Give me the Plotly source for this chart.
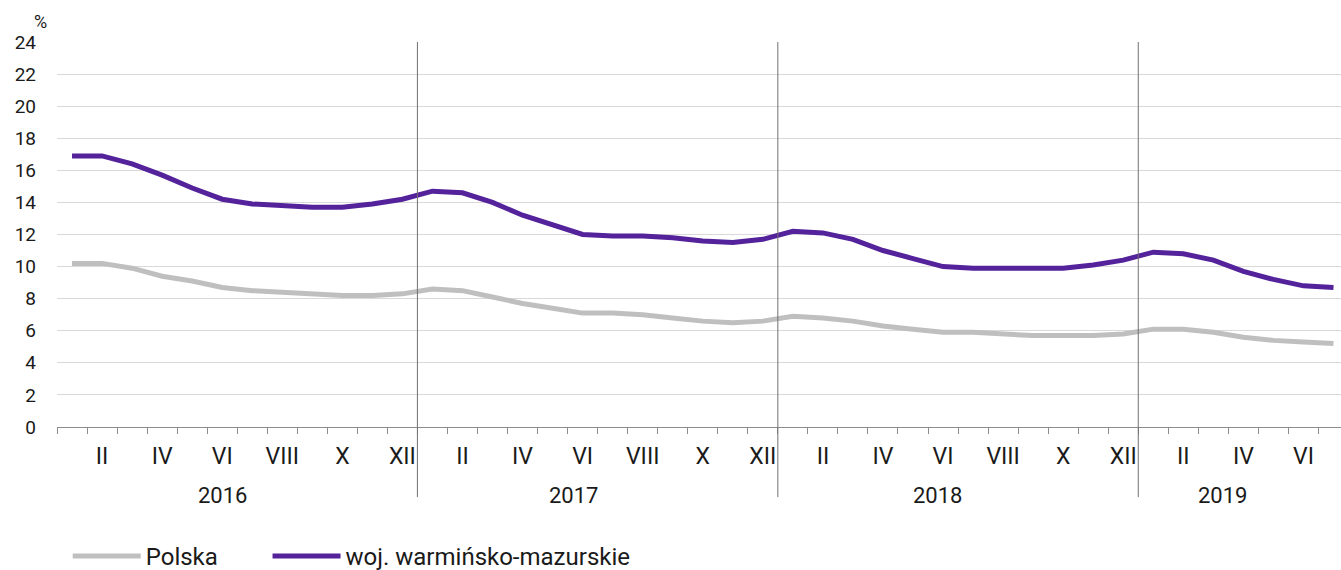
import plotly.graph_objects as go

months = list(range(43))
roman_ticks = [1, 3, 5, 7, 9, 11, 13, 15, 17, 19, 21, 23, 25, 27, 29, 31, 33, 35, 37, 39, 41]
roman_labels = ["II", "IV", "VI", "VIII", "X", "XII"] * 3 + ["II", "IV", "VI"]
years = ["2016", "2017", "2018", "2019"]
year_label_pos = [5.0, 16.7, 28.8, 38.3]
year_breaks = [11.5, 23.5, 35.5]

polska = [10.2, 10.2, 9.9, 9.4, 9.1, 8.7, 8.5, 8.4, 8.3, 8.2, 8.2, 8.3,
          8.6, 8.5, 8.1, 7.7, 7.4, 7.1, 7.1, 7.0, 6.8, 6.6, 6.5, 6.6,
          6.9, 6.8, 6.6, 6.3, 6.1, 5.9, 5.9, 5.8, 5.7, 5.7, 5.7, 5.8,
          6.1, 6.1, 5.9, 5.6, 5.4, 5.3, 5.2]
warm_maz = [16.9, 16.9, 16.4, 15.7, 14.9, 14.2, 13.9, 13.8, 13.7, 13.7, 13.9, 14.2,
            14.7, 14.6, 14.0, 13.2, 12.6, 12.0, 11.9, 11.9, 11.8, 11.6, 11.5, 11.7,
            12.2, 12.1, 11.7, 11.0, 10.5, 10.0, 9.9, 9.9, 9.9, 9.9, 10.1, 10.4,
            10.9, 10.8, 10.4, 9.7, 9.2, 8.8, 8.7]

FONT = "Roboto"
TXT = "#1a1a1a"
fig = go.Figure()
fig.add_trace(go.Scatter(x=months, y=polska, mode="lines", name="Polska", legend="legend",
                         line=dict(color="#BFBFBF", width=5)))
fig.add_trace(go.Scatter(x=months, y=warm_maz, mode="lines", name="woj. warmińsko-mazurskie",
                         legend="legend2", line=dict(color="#54239B", width=5)))

for xb in year_breaks:
    fig.add_shape(type="line", xref="x", yref="paper", x0=xb, x1=xb, y0=-0.182, y1=1,
                  line=dict(color="#707070", width=1), layer="above")

for yl, xp in zip(years, year_label_pos):
    fig.add_annotation(x=xp, y=-0.178, xref="x", yref="paper", text=yl, showarrow=False,
                       font=dict(family=FONT, size=22, color=TXT), yanchor="middle")

fig.add_annotation(x=-0.013, y=1.052, xref="paper", yref="paper", text="%", showarrow=False,
                   font=dict(family=FONT, size=18, color=TXT), xanchor="center", yanchor="middle")

leg_common = dict(orientation="h", xref="container", yref="container", y=0.024,
                  xanchor="left", yanchor="middle", itemwidth=68,
                  font=dict(family=FONT, size=24, color=TXT), bgcolor="rgba(0,0,0,0)")

fig.update_layout(
    width=1341, height=570, autosize=False,
    margin=dict(l=57, r=0, t=42, b=143, autoexpand=False),
    plot_bgcolor="white", paper_bgcolor="white",
    font=dict(family=FONT, size=19, color=TXT),
    showlegend=True,
    legend=dict(x=0.0505, **leg_common),
    legend2=dict(x=0.1995, **leg_common),
    xaxis=dict(range=[-0.5, 42.25], tickmode="array", tickvals=roman_ticks, ticktext=roman_labels,
               ticks="", showgrid=False, zeroline=False, showline=True, linecolor="#8C8C8C",
               linewidth=1, ticklabelstandoff=8, automargin=False,
               tickfont=dict(family=FONT, size=23, color=TXT),
               minor=dict(tick0=-0.5, dtick=1, ticks="outside", ticklen=6, tickcolor="#8C8C8C",
                          tickwidth=1, showgrid=False)),
    yaxis=dict(range=[0, 24], tickmode="array", tickvals=list(range(0, 25, 2)),
               showgrid=True, gridcolor="#D9D9D9", gridwidth=1, zeroline=False, showline=False,
               ticks="", ticklabelstandoff=20, automargin=False,
               tickfont=dict(family=FONT, size=19, color=TXT)),
)

fig.write_html("out.html", config={"displayModeBar": False},
               post_script="document.body.style.margin='0';")
